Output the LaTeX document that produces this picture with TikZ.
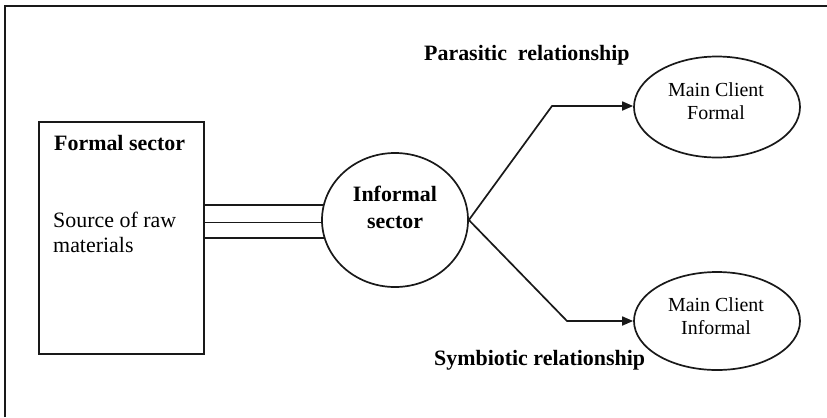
\documentclass[tikz,border=0pt]{standalone}
\usepackage{fontspec}
\setmainfont{Liberation Serif}
\usetikzlibrary{shapes.geometric,arrows.meta}
\tikzset{
  ln/.style={line width=1.7bp, draw=black!90},
  ell/.style={ellipse, ln, inner sep=0pt},
  boxtxt/.style={anchor=base west, inner sep=0pt, font=\fontsize{22}{27}\selectfont},
  boldtxt/.style={anchor=base west, inner sep=0pt, font=\fontsize{22}{27}\selectfont\bfseries},
  clienttxt/.style={align=center, inner sep=0pt, font=\fontsize{20}{23}\selectfont},
  arr/.style={ln, -{Triangle[length=11bp,width=9bp]}}
}
\begin{document}
\begin{tikzpicture}[x=1bp,y=-1bp]
\useasboundingbox (0,0) rectangle (827,417);
% frame
\coordinate (fbl) at (5,417);
\coordinate (ftl) at (5,6);
\coordinate (ftr) at (827,6);
\draw[ln] (fbl) -- (ftl) -- (ftr);
% formal sector box
\node[ln, draw, rectangle, minimum width=165bp, minimum height=232bp, inner sep=0pt] (src) at (121.5,238) {};
\node[boldtxt] (srctitle) at (54,150) {Formal sector};
\node[boxtxt] (srcl1) at (53,227) {Source of raw};
\node[boxtxt] (srcl2) at (53,252) {materials};
% informal sector
\node[ell, minimum width=146bp, minimum height=134bp] (inf) at (395,220) {};
\node[align=center, inner sep=0pt, font=\fontsize{22}{27}\selectfont\bfseries] (inftxt) at (395,207) {Informal\\sector};
% clients
\node[ell, minimum width=166bp, minimum height=101bp] (clf) at (717,107) {};
\node[clienttxt] (clftxt) at (716,101) {Main Client\\Formal};
\node[ell, minimum width=166bp, minimum height=98bp] (cli) at (717,321) {};
\node[clienttxt] (clitxt) at (716,316) {Main Client\\Informal};
% three lines
\draw[ln] (src.east |- inf.168) -- (inf.168);
\draw[ln] (src.east |- inf.182) -- (inf.182);
\draw[ln] (src.east |- inf.194.5) -- (inf.194.5);
% arrows
\coordinate (k1) at (552,106);
\coordinate (k2) at (567,321);
\draw[arr] (inf.east) -- (k1) -- (k1 -| clf.west);
\draw[arr] (inf.east) -- (k2) -- (k2 -| cli.west);
% relationship labels
\node[boldtxt] (para) at (424,60) {Parasitic\ \ relationship};
\node[boldtxt] (symb) at (434,365) {Symbiotic relationship};
\end{tikzpicture}
\end{document}
